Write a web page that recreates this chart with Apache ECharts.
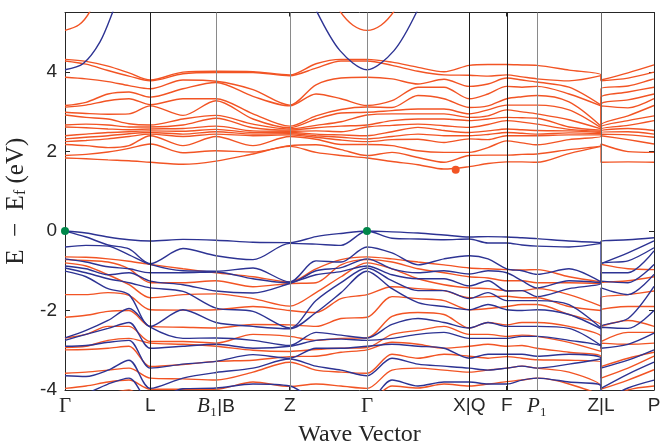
<!DOCTYPE html>
<html><head><meta charset="utf-8">
<script src="https://cdn.jsdelivr.net/npm/echarts@6/dist/echarts.min.js"></script>
<style>html,body{margin:0;padding:0;background:#fff}#c{width:661px;height:445px}</style>
</head><body><div id="c"></div>
<script>
// high-symmetry points along the path
const kTicks = [0, 0.853, 1.51, 2.247, 3.02, 4.043, 4.417, 4.72, 5.36, 5.89];
const kTickLabels = ['{g|Γ}', 'L', '{i|B}{g|₁}|B', 'Z', '{g|Γ}', 'X|Q', 'F', '{i|P}{g|₁}', 'Z|L', 'P'];
const kLineColors = ['#1e1e1e', '#8a8a8a', '#8a8a8a', '#8a8a8a', '#1e1e1e', '#1e1e1e', '#8a8a8a', '#6a6a6a'];
// sampling positions along the path (Z|L break appears twice)
const kGrid = [0, 0.21, 0.43, 0.64, 0.853, 1.18, 1.51, 1.88, 2.247, 2.51, 2.76, 3.02, 3.27, 3.53, 3.79, 4.043, 4.23, 4.417, 4.57, 4.72, 5.04, 5.36, 5.36, 5.63, 5.89];
// orange conduction bands, one column per kGrid position (ascending)
const condOrangeCols = [
 [1.84,1.90,2.18,2.25,2.32,2.40,2.62,2.67,2.92,2.99,3.12,3.16,3.87,4.28,4.32],
 [1.82,1.93,2.15,2.28,2.36,2.44,2.60,2.69,2.86,2.96,3.17,3.24,3.83,4.20,4.27],
 [1.79,1.99,2.10,2.32,2.40,2.48,2.57,2.67,2.82,2.94,3.28,3.45,3.76,4.04,4.15],
 [1.77,2.08,2.15,2.38,2.45,2.50,2.55,2.62,2.70,2.95,3.33,3.50,3.66,3.90,3.98],
 [1.73,2.19,2.40,2.44,2.48,2.52,2.57,2.62,2.67,3.15,3.18,3.37,3.58,3.78,3.80],
 [1.68,1.97,2.15,2.38,2.44,2.51,2.58,2.67,2.82,2.91,3.33,3.58,3.80,3.96,4.00],
 [1.76,2.02,2.38,2.44,2.50,2.56,2.64,2.84,2.91,3.28,3.33,3.74,3.77,3.99,4.02],
 [1.94,1.99,2.15,2.40,2.44,2.48,2.52,2.60,2.69,2.82,2.95,3.39,3.56,3.99,4.01],
 [2.13,2.15,2.38,2.42,2.45,2.48,2.51,2.54,2.57,2.60,2.64,3.15,3.17,3.91,3.93],
 [1.98,2.17,2.31,2.36,2.40,2.44,2.52,2.60,2.66,2.82,2.90,3.45,3.68,4.10,4.21],
 [1.90,2.05,2.18,2.29,2.36,2.42,2.50,2.64,2.75,2.97,3.06,3.33,3.85,4.28,4.32],
 [1.84,1.90,2.18,2.25,2.32,2.40,2.62,2.67,2.92,2.99,3.12,3.16,3.87,4.28,4.32],
 [1.75,1.98,2.15,2.30,2.38,2.50,2.66,2.78,2.95,3.03,3.11,3.28,3.83,4.17,4.25],
 [1.67,1.85,2.02,2.31,2.44,2.61,2.69,2.82,2.95,3.07,3.41,3.62,3.70,4.02,4.12],
 [1.56,1.73,1.98,2.23,2.40,2.53,2.65,2.82,2.95,3.07,3.33,3.62,3.82,3.93,4.01],
 [1.62,1.90,1.98,2.32,2.40,2.48,2.61,2.78,2.86,2.95,3.11,3.33,3.64,3.92,4.17],
 [1.70,1.91,2.10,2.30,2.43,2.52,2.68,2.82,2.90,3.05,3.15,3.45,3.70,3.90,4.19],
 [1.74,1.91,2.27,2.40,2.48,2.57,2.78,2.86,3.05,3.17,3.33,3.64,3.85,3.93,4.19],
 [1.74,1.93,2.22,2.40,2.46,2.55,2.74,2.85,3.00,3.17,3.38,3.62,3.80,3.88,4.18],
 [1.73,1.94,2.17,2.40,2.44,2.53,2.69,2.84,2.95,3.17,3.41,3.64,3.75,3.83,4.17],
 [1.95,2.05,2.30,2.42,2.47,2.52,2.56,2.62,2.80,3.05,3.25,3.45,3.62,3.78,4.05],
 [2.13,2.15,2.38,2.42,2.45,2.48,2.51,2.54,2.57,2.60,2.64,3.15,3.17,3.91,3.93],
 [1.73,2.19,2.40,2.44,2.48,2.52,2.57,2.62,2.67,3.15,3.18,3.37,3.58,3.78,3.80],
 [1.74,2.00,2.30,2.42,2.50,2.58,2.66,2.78,2.90,3.10,3.30,3.50,3.65,3.85,3.98],
 [1.73,1.98,2.19,2.36,2.44,2.53,2.78,2.90,3.16,3.33,3.45,3.62,3.83,4.00,4.18]
];
// blue valence bands (descending)
const valBlueCols = [
 [0,0,-0.40,-0.70,-0.88,-0.93,-1.01,-2.69,-2.75,-2.90,-3.64,-4.3],
 [-0.05,-0.15,-0.36,-0.78,-0.95,-1.05,-1.15,-2.50,-2.60,-2.88,-3.66,-4.1],
 [-0.15,-0.35,-0.38,-0.90,-1.10,-1.20,-1.45,-2.25,-2.45,-2.80,-3.50,-3.85],
 [-0.22,-0.45,-0.60,-0.95,-1.05,-1.30,-1.60,-1.95,-2.30,-2.75,-3.25,-3.70],
 [-0.25,-0.82,-0.84,-1.05,-1.26,-1.43,-2.40,-2.42,-2.95,-3.45,-3.96,-4.3],
 [-0.21,-0.44,-1.00,-1.05,-1.35,-1.52,-1.98,-2.70,-2.90,-3.35,-3.70,-3.97],
 [-0.23,-0.62,-1.01,-1.03,-1.51,-1.94,-2.30,-2.69,-2.85,-3.28,-3.56,-3.95],
 [-0.28,-0.72,-0.93,-1.20,-1.56,-2.02,-2.40,-2.75,-2.95,-3.11,-3.45,-3.85],
 [-0.29,-0.31,-1.28,-1.30,-1.32,-2.44,-2.46,-2.88,-2.90,-3.20,-3.22,-3.90],
 [-0.14,-0.33,-0.75,-1.00,-1.10,-1.75,-2.05,-2.55,-2.75,-2.95,-3.40,-4.2],
 [-0.06,-0.36,-0.78,-0.92,-1.02,-1.30,-1.55,-2.62,-2.72,-2.95,-3.50,-4.2],
 [0,0,-0.40,-0.70,-0.88,-0.93,-1.01,-2.69,-2.75,-2.90,-3.64,-4.3],
 [-0.02,-0.18,-0.55,-0.95,-1.10,-1.25,-1.45,-2.35,-2.70,-2.85,-3.20,-3.75],
 [-0.05,-0.20,-0.85,-1.05,-1.20,-1.50,-1.80,-2.20,-2.60,-2.90,-3.35,-3.90],
 [-0.10,-0.22,-0.70,-1.00,-1.20,-1.50,-1.90,-2.30,-2.55,-2.95,-3.40,-3.80],
 [-0.15,-0.20,-0.62,-1.08,-1.38,-1.70,-1.98,-2.44,-2.70,-3.20,-3.45,-3.80],
 [-0.14,-0.30,-0.70,-1.00,-1.25,-1.55,-1.85,-2.30,-2.70,-3.10,-3.50,-3.85],
 [-0.15,-0.30,-0.95,-1.05,-1.51,-1.75,-1.98,-2.40,-2.70,-3.10,-3.45,-3.85],
 [-0.17,-0.35,-1.00,-1.25,-1.50,-1.75,-2.00,-2.40,-2.65,-3.10,-3.40,-3.75],
 [-0.19,-0.38,-1.09,-1.43,-1.65,-1.75,-1.98,-2.40,-2.65,-3.15,-3.45,-3.70],
 [-0.25,-0.40,-0.95,-1.25,-1.45,-1.85,-2.10,-2.45,-2.75,-3.10,-3.35,-3.80],
 [-0.29,-0.31,-1.28,-1.30,-1.32,-2.44,-2.46,-2.88,-2.90,-3.20,-3.22,-3.90],
 [-0.25,-0.82,-0.84,-1.05,-1.26,-1.43,-2.40,-2.42,-2.95,-3.45,-3.96,-4.3],
 [-0.22,-0.55,-0.75,-1.05,-1.30,-1.60,-2.20,-2.45,-2.85,-3.25,-3.60,-3.95],
 [-0.17,-0.25,-0.42,-0.50,-0.84,-1.09,-1.39,-2.00,-2.57,-2.99,-3.30,-3.75]
];
// orange valence bands (descending)
const valOrangeCols = [
 [-0.65,-0.72,-0.80,-1.60,-2.17,-2.69,-2.93,-2.99,-3.58,-3.96,-4.3],
 [-0.66,-0.74,-0.88,-1.60,-2.12,-2.60,-2.90,-2.98,-3.55,-3.90,-4.2],
 [-0.70,-0.78,-1.10,-1.55,-2.02,-2.40,-2.75,-2.95,-3.50,-3.80,-4.1],
 [-0.76,-0.95,-1.35,-1.62,-2.00,-2.40,-2.70,-2.90,-3.45,-3.75,-4.0],
 [-0.84,-1.30,-1.68,-1.98,-2.40,-2.78,-2.82,-3.41,-3.70,-3.98,-4.3],
 [-0.95,-1.30,-1.60,-1.99,-2.42,-2.78,-2.85,-3.36,-3.72,-3.98,-4.3],
 [-1.05,-1.25,-1.58,-1.98,-2.44,-2.82,-2.90,-3.28,-3.75,-3.98,-4.3],
 [-1.15,-1.40,-1.70,-1.90,-2.35,-2.60,-3.00,-3.25,-3.55,-3.80,-4.2],
 [-1.28,-1.32,-1.89,-2.00,-2.36,-2.65,-3.03,-3.16,-3.30,-3.91,-4.2],
 [-0.95,-1.30,-1.55,-2.05,-2.40,-2.75,-2.98,-3.15,-3.50,-3.85,-4.2],
 [-0.72,-0.85,-1.15,-1.70,-2.20,-2.70,-2.95,-3.05,-3.55,-3.90,-4.25],
 [-0.65,-0.72,-0.80,-1.60,-2.17,-2.69,-2.93,-2.99,-3.58,-3.96,-4.3],
 [-0.70,-0.78,-0.95,-1.40,-1.65,-2.15,-2.60,-2.80,-3.10,-3.50,-3.90],
 [-0.78,-0.95,-1.20,-1.45,-1.70,-2.05,-2.50,-2.85,-3.20,-3.45,-3.95],
 [-0.85,-1.05,-1.35,-1.50,-1.75,-2.10,-2.40,-2.95,-3.10,-3.50,-3.85],
 [-0.93,-1.15,-1.43,-1.68,-1.98,-2.44,-2.60,-2.90,-3.15,-3.55,-3.90],
 [-0.95,-1.18,-1.45,-1.65,-1.95,-2.30,-2.60,-2.85,-3.20,-3.50,-3.85],
 [-0.97,-1.25,-1.50,-1.64,-1.90,-2.36,-2.65,-2.90,-3.16,-3.45,-3.79],
 [-0.98,-1.25,-1.50,-1.68,-1.85,-2.30,-2.62,-2.88,-3.20,-3.40,-3.75],
 [-0.97,-1.30,-1.45,-1.68,-1.85,-2.30,-2.65,-2.95,-3.24,-3.45,-3.70],
 [-1.15,-1.30,-1.60,-1.90,-2.10,-2.40,-2.80,-3.05,-3.25,-3.55,-3.85],
 [-1.28,-1.32,-1.89,-2.00,-2.36,-2.65,-3.03,-3.16,-3.30,-3.91,-4.2],
 [-0.84,-1.30,-1.68,-1.98,-2.40,-2.78,-2.82,-3.41,-3.70,-3.98,-4.3],
 [-0.95,-1.25,-1.60,-1.90,-2.25,-2.55,-2.85,-3.20,-3.45,-3.75,-4.0],
 [-0.97,-1.15,-1.51,-1.90,-2.40,-2.55,-2.82,-3.05,-3.15,-3.49,-3.90]
];
// steep bands around Gamma, [k, E]
const blueParabolaLeft = [[0,4.06],[0.18,4.21],[0.35,4.76],[0.48,5.53],[0.56,6.1]];
const orangeParabolaLeft = [[0,5.05],[0.14,5.19],[0.25,5.53],[0.32,6.0]];
const blueParabolaMid = [[2.40,6.3],[2.517,5.53],[2.75,4.54],[3.02,4.06],[3.29,4.54],[3.52,5.53],[3.63,6.3]];
const orangeParabolaMid = [[2.65,6.0],[2.75,5.53],[2.88,5.18],[3.02,5.05],[3.16,5.18],[3.29,5.53],[3.39,6.0]];
const vbmPoints = [[0,0],[3.02,0]];
const cbmPoints = [[3.907,1.54]];

const ORANGE = '#F25424', BLUE = '#2D3393', GREEN = '#00874A', INK = '#262626';

function bandsFromCols(cols) {
  const n = cols[0].length, out = [];
  for (let b = 0; b < n; b++) out.push(kGrid.map((k, i) => [k, cols[i][b]]));
  return out;
}
const series = [];
series.push({
  type: 'line', data: [], silent: true, z: 1,
  markLine: {
    silent: true, symbol: ['none', 'none'], label: {show: false}, animation: false,
    data: kTicks.slice(1, -1).map((k, i) => ({xAxis: k, lineStyle: {color: kLineColors[i], width: 1, type: 'solid'}}))
  }
});
function addBands(list, color) {
  list.forEach(d => series.push({
    type: 'line', data: d, smooth: 0.3, showSymbol: false, silent: true, z: 2,
    lineStyle: {color: color, width: 1.4}, clip: true
  }));
}
addBands(bandsFromCols(condOrangeCols), ORANGE);
addBands(bandsFromCols(valOrangeCols), ORANGE);
addBands([orangeParabolaLeft, orangeParabolaMid], ORANGE);
addBands(bandsFromCols(valBlueCols), BLUE);
addBands([blueParabolaLeft, blueParabolaMid], BLUE);
series.push({type: 'scatter', data: vbmPoints, symbolSize: 8, itemStyle: {color: GREEN, opacity: 1}, z: 5, silent: true});
series.push({type: 'scatter', data: cbmPoints, symbolSize: 8, itemStyle: {color: ORANGE, opacity: 1}, z: 5, silent: true});

function tickLabel(v) {
  for (let i = 0; i < kTicks.length; i++) if (Math.abs(kTicks[i] - v) < 1e-6) return kTickLabels[i];
  return '';
}
const richX = {
  g: {fontFamily: 'Liberation Serif', fontSize: 21, color: INK},
  i: {fontFamily: 'Liberation Serif', fontStyle: 'italic', fontSize: 21, color: INK}
};
const chart = echarts.init(document.getElementById('c'), null, {renderer: 'canvas'});
chart.setOption({
  animation: false,
  backgroundColor: '#fff',
  grid: {left: 65, right: 7, top: 12.5, bottom: 55, outerBoundsMode: 'none', containLabel: false},
  xAxis: [{
    type: 'value', min: 0, max: 5.89, position: 'bottom',
    axisLine: {show: true, onZero: false, lineStyle: {color: INK, width: 1}},
    axisTick: {show: true, inside: true, length: 4, customValues: kTicks, lineStyle: {color: INK}},
    axisLabel: {show: true, customValues: kTicks, formatter: tickLabel, margin: 6, color: INK,
      fontFamily: 'Liberation Sans', fontSize: 19, rich: richX},
    splitLine: {show: false},
    name: 'Wave Vector', nameLocation: 'middle', nameGap: 33,
    nameTextStyle: {fontFamily: 'Liberation Serif', fontSize: 24, color: INK}
  }, {
    type: 'value', min: 0, max: 5.89, position: 'top',
    axisLine: {show: true, onZero: false, lineStyle: {color: INK, width: 1}},
    axisTick: {show: true, inside: true, length: 4, customValues: kTicks, lineStyle: {color: INK}},
    axisLabel: {show: false}, splitLine: {show: false}
  }],
  yAxis: [{
    type: 'value', min: -4, max: 5.5, interval: 2, position: 'left',
    axisLine: {show: true, onZero: false, lineStyle: {color: INK, width: 1}},
    axisTick: {show: true, inside: true, length: 5, lineStyle: {color: INK}},
    axisLabel: {formatter: v => (Math.abs(v % 2) < 1e-9 ? String(v) : ''), margin: 8, color: INK,
      fontFamily: 'Liberation Sans', fontSize: 19},
    splitLine: {show: false},
    name: 'E  −  E{s|f} (eV)', nameLocation: 'middle', nameGap: 31, nameRotate: 90,
    nameTextStyle: {fontFamily: 'Liberation Serif', fontSize: 25, color: INK,
      rich: {s: {fontFamily: 'Liberation Serif', fontSize: 16, color: INK, verticalAlign: 'bottom', padding: [10, 0, 0, 0]}}}
  }, {
    type: 'value', min: -4, max: 5.5, interval: 2, position: 'right',
    axisLine: {show: true, onZero: false, lineStyle: {color: INK, width: 1}},
    axisTick: {show: true, inside: true, length: 5, lineStyle: {color: INK}},
    axisLabel: {show: false}, splitLine: {show: false}
  }],
  series: series
});
</script>
</body></html>
